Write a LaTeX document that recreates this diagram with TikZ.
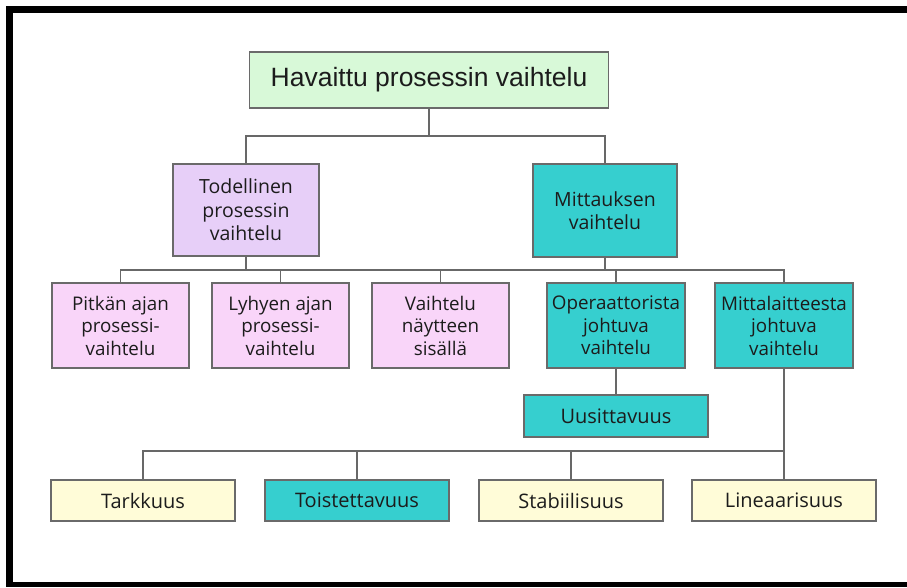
\documentclass[tikz,border=0pt]{standalone}
\usepackage{fontspec}
\setmainfont{Open Sans}
\newfontfamily\arialf{Liberation Sans}
\definecolor{cgreen}{HTML}{D8F9D8}
\definecolor{clav}{HTML}{E7CFF8}
\definecolor{cpink}{HTML}{F9D5F9}
\definecolor{cturq}{HTML}{36CFCF}
\definecolor{cyel}{HTML}{FFFCD8}
\definecolor{boxgray}{HTML}{6A6A6A}
\definecolor{linegray}{HTML}{686868}
\definecolor{txt}{HTML}{1C1C1C}
\begin{document}
\begin{tikzpicture}[x=1pt,y=-1pt,
  box/.style={draw=boxgray, line width=1.3pt, align=center, inner sep=0pt, text=txt},
  midfont/.style={font=\fontsize{18.8}{22.5}\selectfont},
  lowfont/.style={font=\fontsize{20}{23}\selectfont},
  conn/.style={draw=linegray, line width=1.6pt}]
\useasboundingbox (0,0) rectangle (907,587);
\fill[white] (0,0) rectangle (907,587);
% frame
\fill[black] (6,6) rectangle (907,13);
\fill[black] (6,6) rectangle (13,587);
\fill[black] (6,582) rectangle (907,587);
% top
\node[box, fill=cgreen, minimum width=359pt, minimum height=56pt, font=\arialf\fontsize{26.5}{29}\selectfont] (top) at (429,80) {Havaittu prosessin vaihtelu};
% level 1
\node[box, fill=clav, minimum width=146pt, minimum height=92pt, font=\fontsize{19.5}{23.5}\selectfont] (tod) at (246,210) {Todellinen\\prosessin\\vaihtelu};
\node[box, fill=cturq, minimum width=144pt, minimum height=93pt, font=\fontsize{19.5}{23.5}\selectfont] (mit) at (605,210.5) {Mittauksen\\vaihtelu};
% level 2
\node[box, fill=cpink, minimum width=137pt, minimum height=85pt, midfont] (p1) at (120.5,325.5) {Pitkän ajan\\prosessi-\\vaihtelu};
\node[box, fill=cpink, minimum width=137pt, minimum height=85pt, midfont] (p2) at (280.5,325.5) {Lyhyen ajan\\prosessi-\\vaihtelu};
\node[box, fill=cpink, minimum width=137pt, minimum height=85pt, midfont] (p3) at (440.5,325.5) {Vaihtelu\\näytteen\\sisällä};
\node[box, fill=cturq, minimum width=138pt, minimum height=85pt, midfont] (op) at (616,325.5) {Operaattorista\\johtuva\\vaihtelu};
\node[box, fill=cturq, minimum width=138pt, minimum height=85pt, midfont] (ml) at (784,325.5) {Mittalaitteesta\\johtuva\\vaihtelu};
% uusittavuus
\node[box, fill=cturq, minimum width=184pt, minimum height=42pt, lowfont] (uus) at (616,416) {Uusittavuus};
% bottom row
\node[box, fill=cyel, minimum width=184pt, minimum height=41pt, lowfont] (tar) at (143,500.5) {Tarkkuus};
\node[box, fill=cturq, minimum width=184pt, minimum height=41pt, lowfont] (toi) at (357,500.5) {Toistettavuus};
\node[box, fill=cyel, minimum width=184pt, minimum height=41pt, lowfont] (sta) at (571,500.5) {Stabiilisuus};
\node[box, fill=cyel, minimum width=184pt, minimum height=41pt, lowfont] (lin) at (784,500.5) {Lineaarisuus};
% connectors
\coordinate (h1) at (429,136);
\coordinate (h2) at (0,270);
\coordinate (h3) at (0,451);
\draw[conn] (top.south) -- (h1);
\draw[conn] (tod.north) |- (h1) -| (mit.north);
\draw[conn] (tod.south) -- (tod.south |- h2);
\draw[conn] (mit.south) -- (mit.south |- h2);
\draw[conn] (p1.north) |- (ml.north |- h2) -- (ml.north);
\draw[conn] (p2.north) -- (p2.north |- h2);
\draw[conn] (p3.north) -- (p3.north |- h2);
\draw[conn] (op.north) -- (op.north |- h2);
\draw[conn] (op.south) -- (uus.north);
\draw[conn] (ml.south) -- (lin.north);
\draw[conn] (tar.north) |- (lin.north |- h3);
\draw[conn] (toi.north) -- (toi.north |- h3);
\draw[conn] (sta.north) -- (sta.north |- h3);
\end{tikzpicture}
\end{document}
